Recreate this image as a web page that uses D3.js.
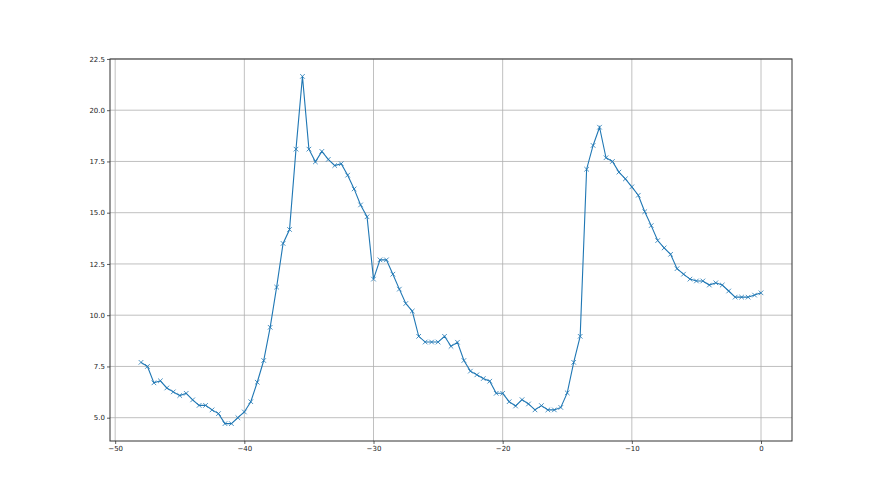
<!DOCTYPE html>
<html>
<head>
<meta charset="utf-8">
<script src="https://cdn.jsdelivr.net/npm/d3@7"></script>
<style>
  html, body { margin: 0; padding: 0; background: #fff; }
  svg { display: block; }
  text { font-family: "DejaVu Sans", sans-serif; }
</style>
</head>
<body>
<svg id="chart" width="880" height="495"></svg>
<script>
const xValues = d3.range(97).map(i => -48 + i * 0.5);
const yValues = [
  7.7, 7.5, 6.7, 6.8, 6.45, 6.26, 6.08, 6.19, 5.87, 5.6,
  5.6, 5.38, 5.2, 4.71, 4.71, 5.0, 5.28, 5.78, 6.73, 7.79,
  9.41, 11.37, 13.5, 14.18, 18.1, 21.65, 18.1, 17.48, 17.99, 17.6,
  17.3, 17.39, 16.83, 16.16, 15.38, 14.8, 11.76, 12.7, 12.7, 12.0,
  11.27, 10.57, 10.2, 8.97, 8.69, 8.69, 8.69, 8.97, 8.48, 8.68,
  7.79, 7.27, 7.09, 6.91, 6.78, 6.19, 6.19, 5.78, 5.57, 5.88,
  5.67, 5.38, 5.59, 5.38, 5.38, 5.5, 6.21, 7.7, 8.97, 17.12,
  18.28, 19.17, 17.68, 17.5, 16.98, 16.65, 16.26, 15.85, 15.05, 14.37,
  13.64, 13.28, 12.97, 12.27, 12.0, 11.76, 11.67, 11.67, 11.47, 11.58,
  11.47, 11.18, 10.88, 10.88, 10.88, 10.98, 11.09
];
const xTicks = [-50, -40, -30, -20, -10, 0];
const yTicks = [5.0, 7.5, 10.0, 12.5, 15.0, 17.5, 20.0, 22.5];

const svg = d3.select("#chart");
const mLeft = 110, mRight = 792, mTop = 59, mBottom = 441;

const xMin = d3.min(xValues), xMax = d3.max(xValues);
const yMin = d3.min(yValues), yMax = d3.max(yValues);
const xPad = (xMax - xMin) * 0.05, yPad = (yMax - yMin) * 0.05;

const x = d3.scaleLinear().domain([xMin - xPad, xMax + xPad]).range([mLeft, mRight]);
const y = d3.scaleLinear().domain([yMin - yPad, yMax + yPad]).range([mBottom, mTop]);

// grid
const grid = svg.append("g");
grid.selectAll(".gx").data(xTicks).join("line")
  .attr("x1", d => x(d)).attr("x2", d => x(d))
  .attr("y1", mTop).attr("y2", mBottom)
  .attr("stroke", "#b0b0b0").attr("stroke-width", 0.8);
grid.selectAll(".gy").data(yTicks).join("line")
  .attr("x1", mLeft).attr("x2", mRight)
  .attr("y1", d => y(d)).attr("y2", d => y(d))
  .attr("stroke", "#b0b0b0").attr("stroke-width", 0.8);

// line
const pts = xValues.map((v, i) => [v, yValues[i]]);
svg.append("path")
  .datum(pts)
  .attr("fill", "none")
  .attr("stroke", "#1f77b4")
  .attr("stroke-width", 1.1)
  .attr("d", d3.line().x(d => x(d[0])).y(d => y(d[1])));

// x markers
const s = 2.3;
svg.append("g").selectAll("path").data(pts).join("path")
  .attr("d", d => {
    const cx = x(d[0]), cy = y(d[1]);
    return `M${cx - s},${cy - s}L${cx + s},${cy + s}M${cx - s},${cy + s}L${cx + s},${cy - s}`;
  })
  .attr("stroke", "#1f77b4").attr("stroke-width", 0.8).attr("fill", "none");

// axes
const xAxis = d3.axisBottom(x).tickValues(xTicks).tickSize(3).tickPadding(2)
  .tickFormat(d => d < 0 ? "\u2212" + Math.abs(d) : String(d));
const gx = svg.append("g").attr("transform", `translate(0,${mBottom})`).call(xAxis);
const yAxis = d3.axisLeft(y).tickValues(yTicks).tickSize(3).tickPadding(2)
  .tickFormat(d3.format(".1f"));
const gy = svg.append("g").attr("transform", `translate(${mLeft},0)`).call(yAxis);
[gx, gy].forEach(g => {
  g.select(".domain").remove();
  g.selectAll(".tick line").attr("stroke", "#333").attr("stroke-width", 0.8);
  g.selectAll("text").attr("font-size", 7).attr("fill", "#222")
    .attr("font-family", "DejaVu Sans, sans-serif");
});

// frame
svg.append("rect")
  .attr("x", mLeft).attr("y", mTop)
  .attr("width", mRight - mLeft).attr("height", mBottom - mTop)
  .attr("fill", "none").attr("stroke", "#333").attr("stroke-width", 1);
</script>
</body>
</html>
